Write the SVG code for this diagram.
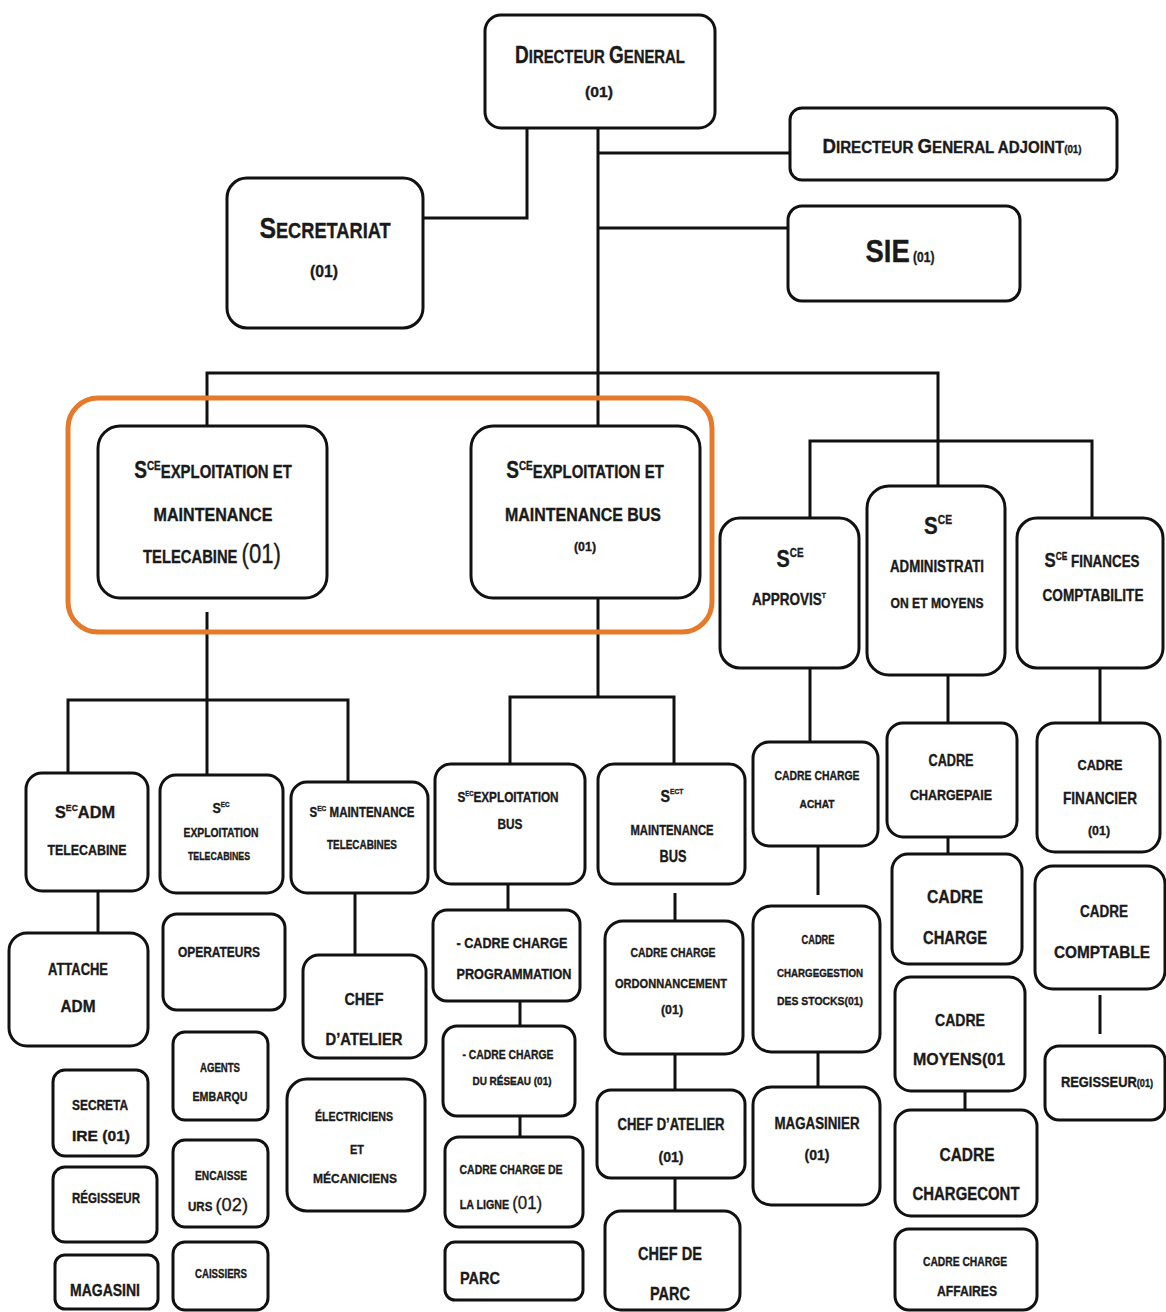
<svg xmlns="http://www.w3.org/2000/svg" width="1166" height="1312" viewBox="0 0 1166 1312">
<style>
.b{fill:#fff;stroke:#111;stroke-width:3}
.c{fill:none;stroke:#111;stroke-width:3}
.o{fill:none;stroke:#E57A2B;stroke-width:5}
text{font-family:"Liberation Sans",Arial,sans-serif;font-weight:bold;fill:#1a1a1a;stroke:#1a1a1a;stroke-width:0.35;text-anchor:middle}
</style>
<rect width="1166" height="1312" fill="#fff"/>
<g id="connectors">
<path class="c" d="M527,128V218H423"/>
<path class="c" d="M598,128V426"/>
<path class="c" d="M598,153H790"/>
<path class="c" d="M598,228H788"/>
<path class="c" d="M207,426V373H938V486"/>
<path class="c" d="M810,518V441H1092V518"/>
<path class="c" d="M207,612V700"/>
<path class="c" d="M68,773V700H348V782"/>
<path class="c" d="M207,700V775"/>
<path class="c" d="M598,598V697"/>
<path class="c" d="M510,764V697H674V764"/>
<path class="c" d="M98,891V933"/>
<path class="c" d="M355,893V955"/>
<path class="c" d="M810,668V742"/>
<path class="c" d="M948,675V723"/>
<path class="c" d="M1100,668V723"/>
<path class="c" d="M508,884V910"/>
<path class="c" d="M520,1001V1026"/>
<path class="c" d="M520,1116V1137"/>
<path class="c" d="M675,893V921"/>
<path class="c" d="M675,1054V1090"/>
<path class="c" d="M675,1178V1211"/>
<path class="c" d="M818,846V895"/>
<path class="c" d="M818,1052V1087"/>
<path class="c" d="M948,837V854"/>
<path class="c" d="M965,1091V1110"/>
<path class="c" d="M1100,995V1034"/>
</g>
<g id="dg"><rect class="b" x="485" y="15" width="230" height="113" rx="16"/>
<text transform="translate(600,63) scale(0.827,1)" font-size="18"><tspan font-size="23">D</tspan>IRECTEUR <tspan font-size="23">G</tspan>ENERAL</text>
<text x="599" y="97" font-size="15" textLength="28" lengthAdjust="spacingAndGlyphs">(01)</text></g>
<g id="dga"><rect class="b" x="790" y="108" width="327" height="72" rx="12"/>
<text transform="translate(952,153) scale(0.891,1)" font-size="17"><tspan font-size="21">D</tspan>IRECTEUR <tspan font-size="21">G</tspan>ENERAL ADJOINT<tspan font-size="11">(01)</tspan></text></g>
<g id="sie"><rect class="b" x="788" y="206" width="232" height="95" rx="14"/>
<text transform="translate(900,262) scale(0.858,1)" font-size="32">SIE<tspan font-size="14"> (01)</tspan></text></g>
<g id="secretariat"><rect class="b" x="227" y="178" width="196" height="150" rx="20"/>
<text transform="translate(325,238) scale(0.828,1)" font-size="22"><tspan font-size="30">S</tspan>ECRETARIAT</text>
<text x="324" y="277" font-size="16" textLength="28" lengthAdjust="spacingAndGlyphs">(01)</text></g>
<rect id="highlight" class="o" x="68" y="398" width="644" height="234" rx="30"/>
<g id="sce-telecabine"><rect class="b" x="98" y="426" width="229" height="172" rx="22"/>
<text transform="translate(213,478) scale(0.829,1)" font-size="18"><tspan font-size="23">S</tspan><tspan font-size="12" dy="-8">CE</tspan><tspan dy="8">EXPLOITATION ET</tspan></text>
<text x="213" y="521" font-size="18" textLength="119" lengthAdjust="spacingAndGlyphs">MAINTENANCE</text>
<text transform="translate(212,563) scale(0.821,1)" font-size="18">TELECABINE <tspan font-size="27" font-weight="normal">(01)</tspan></text></g>
<g id="sce-bus"><rect class="b" x="471" y="426" width="229" height="172" rx="22"/>
<text transform="translate(585,478) scale(0.829,1)" font-size="18"><tspan font-size="23">S</tspan><tspan font-size="12" dy="-8">CE</tspan><tspan dy="8">EXPLOITATION ET</tspan></text>
<text x="583" y="521" font-size="18" textLength="156" lengthAdjust="spacingAndGlyphs">MAINTENANCE BUS</text>
<text x="585" y="551" font-size="13" textLength="22" lengthAdjust="spacingAndGlyphs">(01)</text></g>
<g id="sce-approvis"><rect class="b" x="720" y="518" width="139" height="150" rx="20"/>
<text transform="translate(790,567) scale(0.826,1)" font-size="24">S<tspan font-size="12" dy="-10">CE</tspan></text>
<text transform="translate(789,605) scale(0.845,1)" font-size="16">APPROVIS<tspan font-size="8" dy="-7">T</tspan></text></g>
<g id="sce-administration"><rect class="b" x="867" y="486" width="138" height="189" rx="22"/>
<text transform="translate(938,534) scale(0.856,1)" font-size="24">S<tspan font-size="12" dy="-10">CE</tspan></text>
<text x="937" y="572" font-size="16" textLength="94" lengthAdjust="spacingAndGlyphs">ADMINISTRATI</text>
<text x="937" y="608" font-size="15" textLength="93" lengthAdjust="spacingAndGlyphs">ON ET MOYENS</text></g>
<g id="sce-finances"><rect class="b" x="1017" y="518" width="146" height="150" rx="20"/>
<text transform="translate(1092,567) scale(0.838,1)" font-size="16"><tspan font-size="20">S</tspan><tspan font-size="10" dy="-7">CE</tspan><tspan dy="7"> FINANCES</tspan></text>
<text x="1093" y="601" font-size="16" textLength="101" lengthAdjust="spacingAndGlyphs">COMPTABILITE</text></g>
<g id="sec-adm-telecabine"><rect class="b" x="26" y="773" width="122" height="118" rx="16"/>
<text transform="translate(85,818) scale(0.96,1)" font-size="17">S<tspan font-size="9" dy="-7">EC</tspan><tspan dy="7">ADM</tspan></text>
<text x="87" y="855" font-size="15" textLength="79" lengthAdjust="spacingAndGlyphs">TELECABINE</text></g>
<g id="sec-exploitation-telecabines"><rect class="b" x="160" y="775" width="123" height="118" rx="16"/>
<text transform="translate(221,813) scale(0.895,1)" font-size="14">S<tspan font-size="7" dy="-6">EC</tspan></text>
<text x="221" y="837" font-size="12" textLength="75" lengthAdjust="spacingAndGlyphs">EXPLOITATION</text>
<text x="219" y="860" font-size="11" textLength="62" lengthAdjust="spacingAndGlyphs">TELECABINES</text></g>
<g id="sec-maintenance-telecabines"><rect class="b" x="291" y="782" width="137" height="111" rx="16"/>
<text transform="translate(362,817) scale(0.822,1)" font-size="14">S<tspan font-size="8" dy="-6">EC</tspan><tspan dy="6"> MAINTENANCE</tspan></text>
<text x="362" y="849" font-size="12" textLength="70" lengthAdjust="spacingAndGlyphs">TELECABINES</text></g>
<g id="attache-adm"><rect class="b" x="9" y="933" width="139" height="113" rx="18"/>
<text x="78" y="975" font-size="16" textLength="60" lengthAdjust="spacingAndGlyphs">ATTACHE</text>
<text x="78" y="1012" font-size="17" textLength="35" lengthAdjust="spacingAndGlyphs">ADM</text></g>
<g id="operateurs"><rect class="b" x="163" y="914" width="122" height="96" rx="14"/>
<text x="219" y="957" font-size="14.5" textLength="82" lengthAdjust="spacingAndGlyphs">OPERATEURS</text></g>
<g id="chef-atelier-tele"><rect class="b" x="303" y="955" width="123" height="103" rx="16"/>
<text x="364" y="1005" font-size="17" textLength="39" lengthAdjust="spacingAndGlyphs">CHEF</text>
<text x="364" y="1045" font-size="17" textLength="77" lengthAdjust="spacingAndGlyphs">D’ATELIER</text></g>
<g id="secretaire"><rect class="b" x="53" y="1070" width="95" height="86" rx="12"/>
<text x="100" y="1110" font-size="15" textLength="56" lengthAdjust="spacingAndGlyphs">SECRETA</text>
<text x="101" y="1141" font-size="15" textLength="58" lengthAdjust="spacingAndGlyphs">IRE  (01)</text></g>
<g id="regisseur-tele"><rect class="b" x="53" y="1167" width="104" height="75" rx="12"/>
<text x="106" y="1203" font-size="14" textLength="68" lengthAdjust="spacingAndGlyphs">RÉGISSEUR</text></g>
<g id="magasini"><rect class="b" x="55" y="1255" width="103" height="54" rx="10"/>
<text x="105" y="1296" font-size="17" textLength="70" lengthAdjust="spacingAndGlyphs">MAGASINI</text></g>
<g id="agents-embarqu"><rect class="b" x="173" y="1032" width="95" height="88" rx="12"/>
<text x="220" y="1072" font-size="12" textLength="40" lengthAdjust="spacingAndGlyphs">AGENTS</text>
<text x="220" y="1101" font-size="12" textLength="55" lengthAdjust="spacingAndGlyphs">EMBARQU</text></g>
<g id="encaisseurs"><rect class="b" x="173" y="1140" width="95" height="87" rx="12"/>
<text x="221" y="1180" font-size="12" textLength="52" lengthAdjust="spacingAndGlyphs">ENCAISSE</text>
<text transform="translate(218,1211) scale(0.96,1)" font-size="12">URS <tspan font-size="19" font-weight="normal">(02)</tspan></text></g>
<g id="caissiers"><rect class="b" x="173" y="1242" width="95" height="68" rx="12"/>
<text x="221" y="1278" font-size="12" textLength="52" lengthAdjust="spacingAndGlyphs">CAISSIERS</text></g>
<g id="electriciens"><rect class="b" x="287" y="1079" width="138" height="132" rx="20"/>
<text x="354" y="1121" font-size="13" textLength="78" lengthAdjust="spacingAndGlyphs">ÉLECTRICIENS</text>
<text x="357" y="1154" font-size="13" textLength="14" lengthAdjust="spacingAndGlyphs">ET</text>
<text x="355" y="1183" font-size="13" textLength="84" lengthAdjust="spacingAndGlyphs">MÉCANICIENS</text></g>
<g id="sec-exploitation-bus"><rect class="b" x="435" y="764" width="150" height="120" rx="16"/>
<text transform="translate(508,802) scale(0.841,1)" font-size="14">S<tspan font-size="7" dy="-6">EC</tspan><tspan dy="6">EXPLOITATION</tspan></text>
<text x="510" y="829" font-size="15" textLength="25" lengthAdjust="spacingAndGlyphs">BUS</text></g>
<g id="sect-maintenance-bus"><rect class="b" x="598" y="764" width="147" height="120" rx="16"/>
<text transform="translate(672,802) scale(0.84,1)" font-size="17">S<tspan font-size="8" dy="-8">ECT</tspan></text>
<text x="672" y="835" font-size="14" textLength="83" lengthAdjust="spacingAndGlyphs">MAINTENANCE</text>
<text x="673" y="862" font-size="16" textLength="27" lengthAdjust="spacingAndGlyphs">BUS</text></g>
<g id="cadre-achat"><rect class="b" x="753" y="742" width="125" height="104" rx="16"/>
<text x="817" y="780" font-size="12.5" textLength="85" lengthAdjust="spacingAndGlyphs">CADRE CHARGE</text>
<text x="817" y="808" font-size="11" textLength="35" lengthAdjust="spacingAndGlyphs">ACHAT</text></g>
<g id="cadre-programmation"><rect class="b" x="433" y="910" width="147" height="91" rx="14"/>
<text x="512" y="948" font-size="15.5" textLength="111" lengthAdjust="spacingAndGlyphs">- CADRE CHARGE</text>
<text x="514" y="979" font-size="15" textLength="115" lengthAdjust="spacingAndGlyphs">PROGRAMMATION</text></g>
<g id="cadre-reseau"><rect class="b" x="443" y="1026" width="132" height="90" rx="14"/>
<text x="508" y="1059" font-size="12.5" textLength="91" lengthAdjust="spacingAndGlyphs">- CADRE CHARGE</text>
<text x="512" y="1085" font-size="10" textLength="79" lengthAdjust="spacingAndGlyphs">DU RÉSEAU (01)</text></g>
<g id="cadre-ligne"><rect class="b" x="445" y="1137" width="138" height="90" rx="14"/>
<text x="511" y="1174" font-size="13" textLength="103" lengthAdjust="spacingAndGlyphs">CADRE CHARGE DE</text>
<text transform="translate(501,1209) scale(0.89,1)" font-size="12">LA LIGNE <tspan font-size="19" font-weight="normal">(01)</tspan></text></g>
<g id="parc"><rect class="b" x="445" y="1242" width="138" height="58" rx="10"/>
<text x="480" y="1284" font-size="17" textLength="40" lengthAdjust="spacingAndGlyphs">PARC</text></g>
<g id="cadre-ordonnancement"><rect class="b" x="605" y="921" width="138" height="133" rx="18"/>
<text x="673" y="957" font-size="12.5" textLength="85" lengthAdjust="spacingAndGlyphs">CADRE CHARGE</text>
<text x="671" y="988" font-size="13" textLength="112" lengthAdjust="spacingAndGlyphs">ORDONNANCEMENT</text>
<text x="672" y="1014" font-size="13" textLength="22" lengthAdjust="spacingAndGlyphs">(01)</text></g>
<g id="chef-atelier-bus"><rect class="b" x="597" y="1090" width="148" height="88" rx="14"/>
<text x="671" y="1130" font-size="16" textLength="107" lengthAdjust="spacingAndGlyphs">CHEF D’ATELIER</text>
<text x="671" y="1162" font-size="15" textLength="25" lengthAdjust="spacingAndGlyphs">(01)</text></g>
<g id="chef-de-parc"><rect class="b" x="605" y="1211" width="135" height="99" rx="16"/>
<text x="670" y="1260" font-size="18" textLength="64" lengthAdjust="spacingAndGlyphs">CHEF DE</text>
<text x="670" y="1300" font-size="18" textLength="40" lengthAdjust="spacingAndGlyphs">PARC</text></g>
<g id="cadre-gestion-stocks"><rect class="b" x="753" y="906" width="127" height="146" rx="18"/>
<text x="818" y="944" font-size="12" textLength="33" lengthAdjust="spacingAndGlyphs">CADRE</text>
<text x="820" y="977" font-size="11.5" textLength="86" lengthAdjust="spacingAndGlyphs">CHARGEGESTION</text>
<text x="820" y="1005" font-size="11.5" textLength="86" lengthAdjust="spacingAndGlyphs">DES STOCKS(01)</text></g>
<g id="magasinier"><rect class="b" x="753" y="1087" width="127" height="118" rx="18"/>
<text x="817" y="1129" font-size="16" textLength="85" lengthAdjust="spacingAndGlyphs">MAGASINIER</text>
<text x="817" y="1160" font-size="15" textLength="25" lengthAdjust="spacingAndGlyphs">(01)</text></g>
<g id="cadre-paie"><rect class="b" x="887" y="723" width="130" height="114" rx="16"/>
<text x="951" y="766" font-size="16" textLength="45" lengthAdjust="spacingAndGlyphs">CADRE</text>
<text x="951" y="800" font-size="14" textLength="82" lengthAdjust="spacingAndGlyphs">CHARGEPAIE</text></g>
<g id="cadre-charge"><rect class="b" x="892" y="854" width="130" height="110" rx="16"/>
<text x="955" y="903" font-size="19" textLength="56" lengthAdjust="spacingAndGlyphs">CADRE</text>
<text x="955" y="944" font-size="18" textLength="64" lengthAdjust="spacingAndGlyphs">CHARGE</text></g>
<g id="cadre-moyens"><rect class="b" x="895" y="977" width="130" height="114" rx="16"/>
<text x="960" y="1026" font-size="17" textLength="50" lengthAdjust="spacingAndGlyphs">CADRE</text>
<text x="959" y="1065" font-size="17" textLength="92" lengthAdjust="spacingAndGlyphs">MOYENS(01</text></g>
<g id="cadre-chargecont"><rect class="b" x="895" y="1110" width="142" height="106" rx="16"/>
<text x="967" y="1161" font-size="19" textLength="55" lengthAdjust="spacingAndGlyphs">CADRE</text>
<text x="966" y="1200" font-size="18" textLength="107" lengthAdjust="spacingAndGlyphs">CHARGECONT</text></g>
<g id="cadre-affaires"><rect class="b" x="895" y="1229" width="142" height="81" rx="14"/>
<text x="965" y="1266" font-size="12.5" textLength="84" lengthAdjust="spacingAndGlyphs">CADRE CHARGE</text>
<text x="967" y="1296" font-size="15" textLength="60" lengthAdjust="spacingAndGlyphs">AFFAIRES</text></g>
<g id="cadre-financier"><rect class="b" x="1037" y="723" width="123" height="129" rx="18"/>
<text x="1100" y="770" font-size="15.5" textLength="45" lengthAdjust="spacingAndGlyphs">CADRE</text>
<text x="1100" y="804" font-size="17" textLength="74" lengthAdjust="spacingAndGlyphs">FINANCIER</text>
<text x="1099" y="835" font-size="13" textLength="22" lengthAdjust="spacingAndGlyphs">(01)</text></g>
<g id="cadre-comptable"><rect class="b" x="1035" y="866" width="130" height="123" rx="18"/>
<text x="1104" y="917" font-size="16.5" textLength="48" lengthAdjust="spacingAndGlyphs">CADRE</text>
<text x="1102" y="958" font-size="17" textLength="96" lengthAdjust="spacingAndGlyphs">COMPTABLE</text></g>
<g id="regisseur-fin"><rect class="b" x="1045" y="1046" width="120" height="74" rx="14"/>
<text transform="translate(1107,1087) scale(0.92,1)" font-size="14">REGISSEUR<tspan font-size="10">(01)</tspan></text></g>
</svg>
